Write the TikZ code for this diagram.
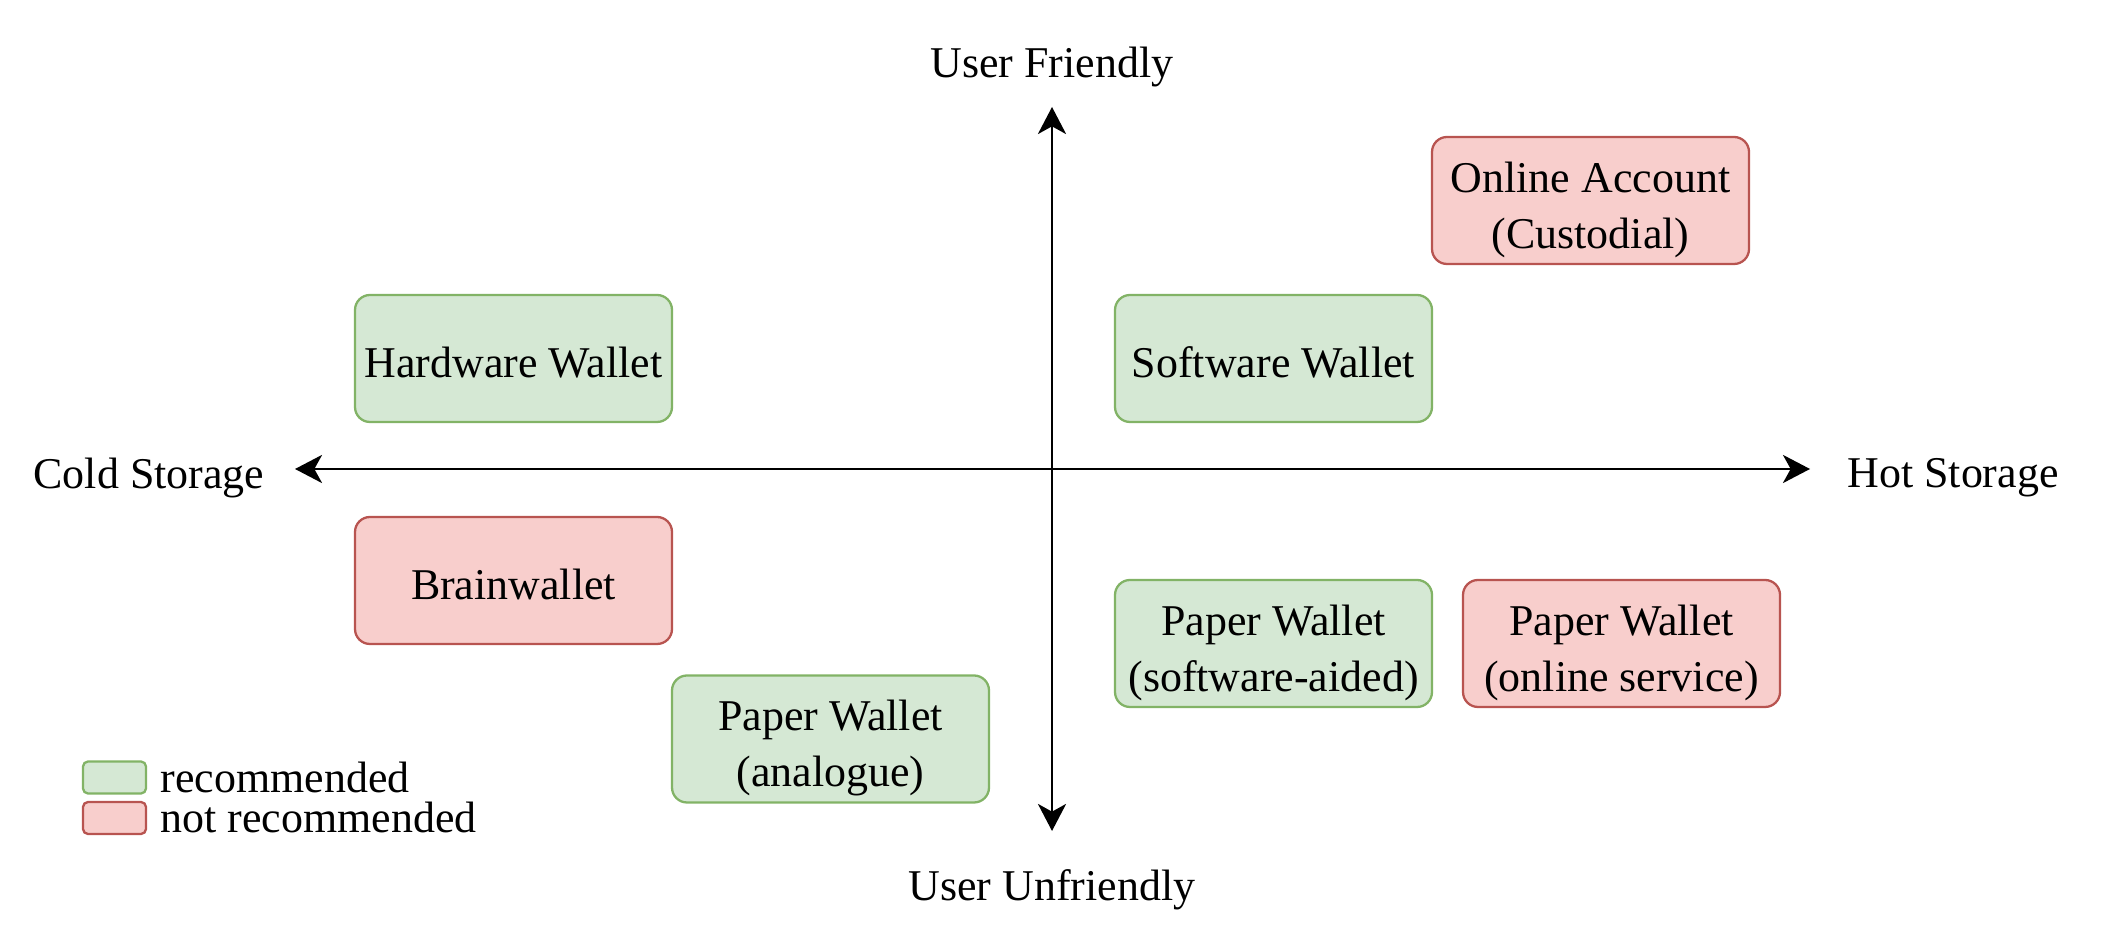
\documentclass[tikz,border=0pt]{standalone}
\usepackage{fontspec}
\setmainfont{Liberation Serif}
\usepackage{tikz}
\usetikzlibrary{arrows.meta}

\definecolor{goodfill}{HTML}{D5E8D4}
\definecolor{gooddraw}{HTML}{82B366}
\definecolor{badfill}{HTML}{F8CECC}
\definecolor{baddraw}{HTML}{B85450}

\newcommand{\padtop}[1]{\rule{0pt}{#1}}

\tikzset{
  wallet/.style={rounded corners=0.15cm,line width=0.65pt,minimum width=3.17cm,minimum height=1.27cm,align=center,inner sep=1pt},
  good/.style={wallet,fill=goodfill,draw=gooddraw},
  bad/.style={wallet,fill=badfill,draw=baddraw},
  legendbox/.style={rounded corners=0.05cm,line width=0.65pt,minimum width=0.63cm,minimum height=0.32cm,inner sep=0pt}
}

\begin{document}
\begin{tikzpicture}[font=\fontsize{12.5}{16}\selectfont,>={Stealth[length=7.7pt,width=8pt,inset=2.2pt]}]
\useasboundingbox (0,0) rectangle (21.02,9.50);
% axes
\coordinate (top) at (10.52,8.43);
\coordinate (bottom) at (10.52,1.19);
\coordinate (left) at (2.95,4.81);
\coordinate (right) at (18.10,4.81);
\draw[line width=0.7pt,<->] (top) -- (bottom);
\draw[line width=0.7pt,<->] (left) -- (right);
\node (friendly) at (10.52,8.83) {User Friendly};
\node (unfriendly) at (10.52,0.60) {User Unfriendly};
\node (cold) at (1.49,4.72) {Cold Storage};
\node (hot) at (19.53,4.72) {Hot Storage};
% wallets
\node[good] (hardware) at (5.135,5.915) {\padtop{11pt}Hardware Wallet};
\node[good] (software) at (12.735,5.915) {\padtop{11pt}Software Wallet};
\node[bad] (online) at (15.905,7.495) {\padtop{14pt}Online Account\\(Custodial)};
\node[bad] (brain) at (5.135,3.695) {\padtop{11pt}Brainwallet};
\node[good] (papersoft) at (12.735,3.065) {\padtop{14pt}Paper Wallet\\(software-aided)};
\node[bad] (paperonline) at (16.215,3.065) {\padtop{14pt}Paper Wallet\\(online service)};
\node[good] (paperanalogue) at (8.305,2.11) {\padtop{14pt}Paper Wallet\\(analogue)};
% legend
\node[legendbox,fill=goodfill,draw=gooddraw] (goodkey) at (1.145,1.725) {};
\node[legendbox,fill=badfill,draw=baddraw] (badkey) at (1.145,1.32) {};
\node[anchor=base west,inner sep=0pt] (goodtext) at (1.60,1.57) {recommended};
\node[anchor=base west,inner sep=0pt] (badtext) at (1.60,1.17) {not recommended};
\end{tikzpicture}
\end{document}
